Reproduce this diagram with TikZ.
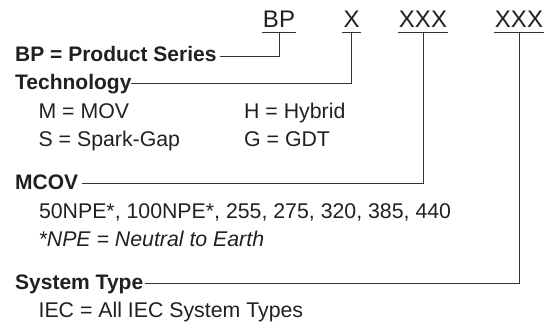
\documentclass[tikz,border=0pt]{standalone}
\usepackage{fontspec}
\setmainfont{Liberation Sans}
\definecolor{ink}{HTML}{231F20}
\definecolor{lineink}{HTML}{333333}
\begin{document}
\begin{tikzpicture}[x=1pt,y=-1pt,
  txt/.style={anchor=base west, inner sep=0pt, font=\fontsize{21.3}{25}\selectfont, text=ink},
  head/.style={txt, font=\fontsize{21}{25}\selectfont\bfseries},
  code/.style={anchor=base, font=\fontsize{24}{28}\selectfont, text=ink, inner xsep=1pt, inner ysep=0pt, text depth=4.6pt},
  conn/.style={draw=lineink, line width=1pt}]
\useasboundingbox (0,0) rectangle (547,324);
% code letters
\node[code] (bp) at (279,27.7) {BP};
\node[code] (x) at (351.6,27.7) {X};
\node[code] (xa) at (423,27.7) {XXX};
\node[code] (xb) at (519,27.7) {XXX};
% headings
\node[head] (hbp) at (15,61) {BP = Product Series};
\node[head] (htech) at (15,89.3) {Technology};
\node[head] (hmcov) at (15,189) {MCOV};
\node[head] (hsys) at (15,289) {System Type};
% items
\node[txt] (m) at (38.4,118) {M = MOV};
\node[txt] (s) at (38.4,146.5) {S = Spark-Gap};
\node[txt] (h) at (244,118) {H = Hybrid};
\node[txt] (g) at (244,146.5) {G = GDT};
\node[txt] (v) at (38.8,218.3) {50NPE*, 100NPE*, 255, 275, 320, 385, 440};
\node[txt] (npe) at (38.4,246.7) {\itshape *NPE = Neutral to Earth};
\node[txt] (iec) at (38.4,317.7) {IEC = All IEC System Types};
% connector ends
\coordinate (e1) at (220,56);
\coordinate (e2) at (130.7,83.5);
\coordinate (e3) at (81.7,183.3);
\coordinate (e4) at (145,283.3);
% underlines
\foreach \n in {bp,x,xa,xb}
  \draw[conn] (\n.south west) -- (\n.south east);
% connectors
\draw[conn] (bp.south) |- (e1);
\draw[conn] (x.south) |- (e2);
\draw[conn] (xa.south) |- (e3);
\draw[conn] (xb.south) |- (e4);
\end{tikzpicture}
\end{document}
